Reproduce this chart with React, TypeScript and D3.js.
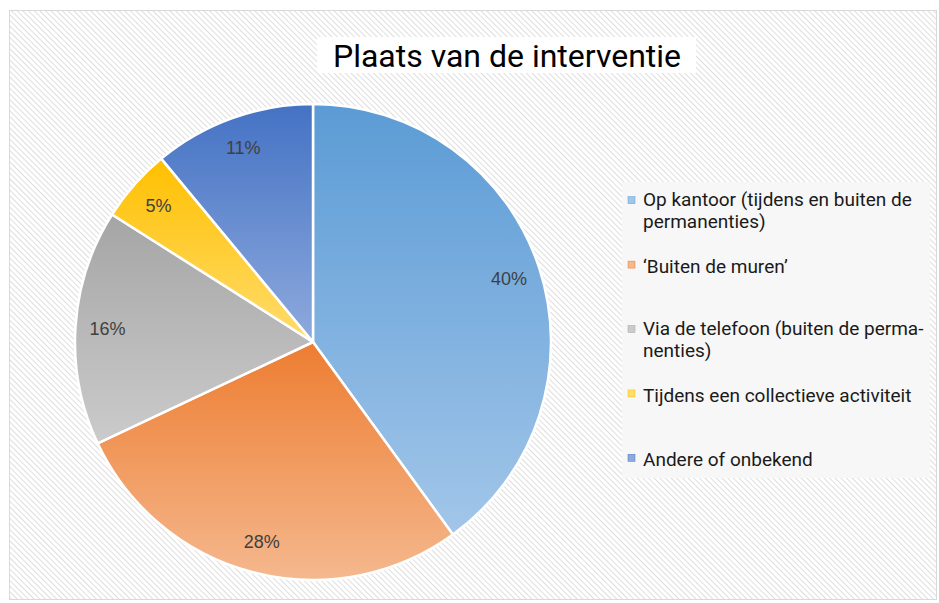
import React from 'react';
import * as d3 from 'd3';

const categories = [
  'Op kantoor (tijdens en buiten de permanenties)',
  '‘Buiten de muren’',
  'Via de telefoon (buiten de permanenties)',
  'Tijdens een collectieve activiteit',
  'Andere of onbekend',
];
const legendLines = [
  ['Op kantoor (tijdens en buiten de', 'permanenties)'],
  ['‘Buiten de muren’'],
  ['Via de telefoon (buiten de perma-', 'nenties)'],
  ['Tijdens een collectieve activiteit'],
  ['Andere of onbekend'],
];
const values = [40, 28, 16, 5, 11];
const topColors = ['#5b9bd5', '#ed7d31', '#a5a5a5', '#ffc000', '#4472c4'];
const bottomColors = ['#a2c6e9', '#f5b88e', '#cbcbcb', '#ffdc6e', '#8eaadd'];
const title = 'Plaats van de interventie';

export default function App() {
  const width = 939;
  const height = 603;
  const cx = 313;
  const cy = 342;
  const radius = 238;

  const pie = d3.pie<number>().sort(null).value(d => d);
  const arcs = pie(values);
  const arc = d3.arc<d3.PieArcDatum<number>>().innerRadius(0).outerRadius(radius);
  const labelArc = d3
    .arc<d3.PieArcDatum<number>>()
    .innerRadius(radius - 32)
    .outerRadius(radius - 32);

  // legend rows, marker centred in each band
  const legendY = d3
    .scaleBand<string>()
    .domain(categories)
    .range([168, 490]);

  return (
    <svg
      width={width}
      height={height}
      style={{ position: 'absolute', left: 0, top: 0, display: 'block' }}
    >
      <defs>
        <pattern
          id="hatch"
          width="4"
          height="4"
          patternUnits="userSpaceOnUse"
          patternTransform="rotate(-45)"
        >
          <rect width="4" height="4" fill="#ffffff" />
          <line x1="0" y1="0" x2="0" y2="4" stroke="#d6d6d6" strokeWidth="1.6" />
        </pattern>
        {topColors.map((c, i) => (
          <linearGradient key={i} id={`g${i}`} x1="0" y1="0" x2="0" y2="1">
            <stop offset="0" stopColor={c} />
            <stop offset="1" stopColor={bottomColors[i]} />
          </linearGradient>
        ))}
      </defs>
      <rect width={width} height={height} fill="#ffffff" />
      <rect
        x={9.5}
        y={10.5}
        width={927}
        height={589}
        fill="url(#hatch)"
        stroke="#d9d9d9"
        strokeWidth={1}
      />

      {/* title */}
      <rect x={317} y={37} width={379} height={36} fill="#ffffff" />
      <text
        x={507}
        y={67}
        textAnchor="middle"
        fontFamily="Roboto"
        fontSize={32}
        fill="#000000"
      >
        {title}
      </text>

      {/* pie */}
      <g transform={`translate(${cx},${cy})`}>
        {arcs.map((a, i) => (
          <path
            key={i}
            d={arc(a) || ''}
            fill={`url(#g${i})`}
            stroke="#ffffff"
            strokeWidth={2.5}
            strokeLinejoin="round"
          />
        ))}
        {arcs.map((a, i) => {
          const [x, y] = labelArc.centroid(a);
          return (
            <text
              key={i}
              x={x}
              y={y}
              dy="0.35em"
              textAnchor="middle"
              fontFamily="Liberation Sans"
              fontSize={18}
              fill="#404040"
            >
              {values[i]}%
            </text>
          );
        })}
      </g>

      {/* legend */}
      <rect x={622} y={182} width={308} height={296} fill="#f7f7f7" />
      {categories.map((c, i) => {
        const lines = legendLines[i];
        const mid = (legendY(c) || 0) + legendY.bandwidth() / 2;
        const base = lines.length > 1 ? mid + 6 : mid + 8.5;
        return (
          <g key={c}>
            <rect
              x={628}
              y={mid - 3.5}
              width={7}
              height={7}
              fill={bottomColors[i]}
              stroke={topColors[i]}
              strokeWidth={0.5}
            />
            {lines.map((l, j) => (
              <text
                key={j}
                x={643}
                y={base + j * 21.5}
                fontFamily="Roboto"
                fontSize={19}
                fill="#1a1a1a"
              >
                {l}
              </text>
            ))}
          </g>
        );
      })}
    </svg>
  );
}
